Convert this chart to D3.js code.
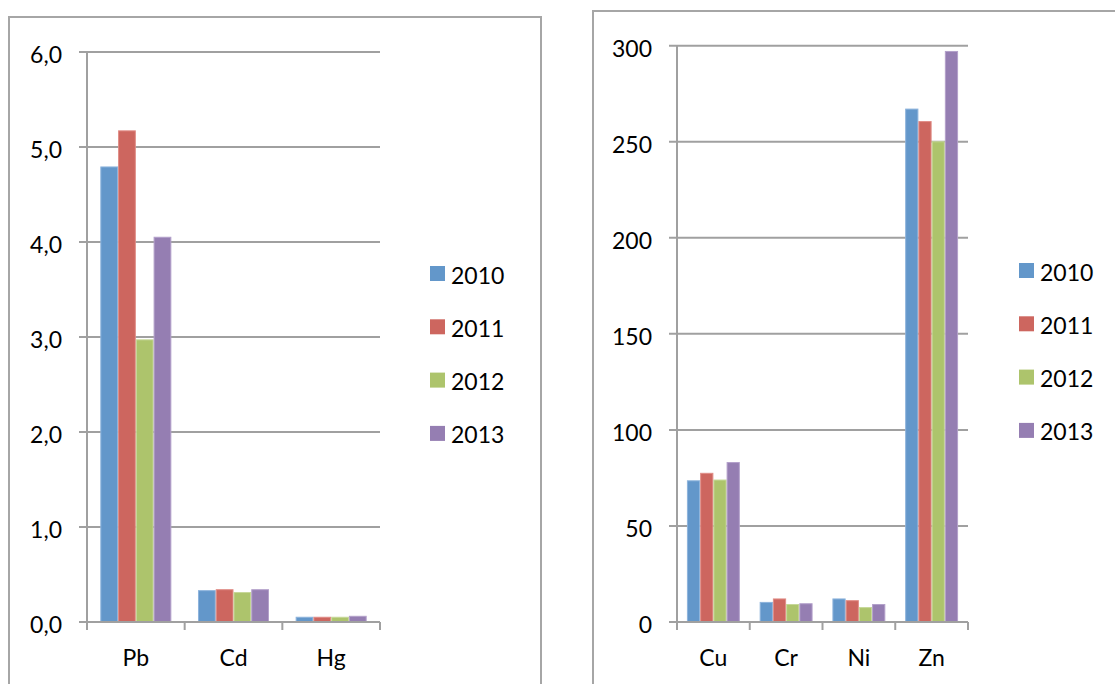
<!DOCTYPE html>
<html>
<head>
<meta charset="utf-8">
<script src="https://cdn.jsdelivr.net/npm/d3@7"></script>
<style>
  html, body { margin: 0; padding: 0; background: #fff; }
  svg { display: block; }
  text { font-family: Lato, "Open Sans", sans-serif; fill: #000; }
</style>
</head>
<body>
<svg id="chart" width="1115" height="684"></svg>
<script>
// Years shown in both legends, with their bar colours
const years = ["2010", "2011", "2012", "2013"];
const yearColors = ["#6397CA", "#CD665F", "#ADC46C", "#957EB2"];
const yearEdges = ["#8DB3DC", "#E08C86", "#C6D898", "#B3A0CA"];

// Left panel: Pb, Cd, Hg
const leftCategories = ["Pb", "Cd", "Hg"];
const left2010 = [4.79, 0.33, 0.05];
const left2011 = [5.17, 0.34, 0.05];
const left2012 = [2.97, 0.31, 0.05];
const left2013 = [4.05, 0.34, 0.06];
const leftTicks = [0, 1, 2, 3, 4, 5, 6];

// Right panel: Cu, Cr, Ni, Zn
const rightCategories = ["Cu", "Cr", "Ni", "Zn"];
const right2010 = [73.5, 10.2, 12.0, 267];
const right2011 = [77.4, 12.0, 11.1, 260.5];
const right2012 = [73.9, 9.1, 7.5, 250];
const right2013 = [83.0, 9.5, 9.1, 297];
const rightTicks = [0, 50, 100, 150, 200, 250, 300];

const commaLocale = d3.formatLocale({ decimal: ",", thousands: ".", grouping: [3], currency: ["", ""] });

const svg = d3.select("#chart");
svg.append("rect").attr("width", 1115).attr("height", 684).attr("fill", "#fff");

function drawPanel(opt) {
  const g = svg.append("g");

  // panel frame (runs off the bottom / right edge)
  g.append("rect")
    .attr("x", opt.frame[0]).attr("y", opt.frame[1])
    .attr("width", opt.frame[2]).attr("height", opt.frame[3])
    .attr("fill", "none").attr("stroke", "#a6a6a6").attr("stroke-width", 2);

  const x0 = d3.scaleBand().domain(opt.categories)
    .range([opt.left, opt.right]).paddingInner(0).paddingOuter(0);
  const x1 = d3.scaleBand().domain(years)
    .range([0, x0.bandwidth()]).paddingInner(0).paddingOuter(0.75);
  const y = d3.scaleLinear().domain([0, opt.max]).range([opt.bottom, opt.top]);

  const gridColor = "#a0a0a0";

  // horizontal gridlines with the short outside tick
  g.append("g").selectAll("line").data(opt.ticks).join("line")
    .attr("x1", opt.left - 8).attr("x2", opt.right)
    .attr("y1", d => y(d)).attr("y2", d => y(d))
    .attr("stroke", gridColor).attr("stroke-width", 2);

  // value axis line
  g.append("line")
    .attr("x1", opt.left).attr("x2", opt.left)
    .attr("y1", opt.top).attr("y2", opt.bottom + 8)
    .attr("stroke", gridColor).attr("stroke-width", 2);

  // category boundary ticks
  const bounds = opt.categories.map(c => x0(c)).concat([opt.right]);
  g.append("g").selectAll("line").data(bounds.slice(1)).join("line")
    .attr("x1", d => d).attr("x2", d => d)
    .attr("y1", opt.bottom).attr("y2", opt.bottom + 8)
    .attr("stroke", gridColor).attr("stroke-width", 2);

  // tick labels
  g.append("g").selectAll("text").data(opt.ticks).join("text")
    .attr("x", opt.labelRight).attr("y", d => y(d) + 11)
    .attr("text-anchor", "end").attr("font-size", 23)
    .text(d => opt.format(d));

  // bars
  const series = opt.values;
  years.forEach((yr, i) => {
    g.append("g").selectAll("rect").data(series[i]).join("rect")
      .attr("x", (d, j) => x0(opt.categories[j]) + x1(yr) + 0.5)
      .attr("y", d => y(d))
      .attr("width", x1.bandwidth() - 1)
      .attr("height", d => opt.bottom - y(d))
      .attr("fill", yearColors[i])
      .attr("stroke", yearEdges[i]).attr("stroke-width", 1);
  });

  // x-axis line on top of the bars' bottoms
  g.append("line")
    .attr("x1", opt.left - 8).attr("x2", opt.right)
    .attr("y1", opt.bottom).attr("y2", opt.bottom)
    .attr("stroke", gridColor).attr("stroke-width", 2);

  // category labels
  g.append("g").selectAll("text").data(opt.categories).join("text")
    .attr("x", d => x0(d) + x0.bandwidth() / 2)
    .attr("y", 666)
    .attr("text-anchor", "middle").attr("font-size", 23)
    .text(d => d);

  // legend
  const lg = g.append("g").selectAll("g").data(years).join("g")
    .attr("transform", (d, i) => `translate(${opt.legend[0]},${opt.legend[1] + i * 53.3})`);
  lg.append("rect").attr("width", 15).attr("height", 15)
    .attr("fill", (d, i) => yearColors[i]);
  lg.append("text").attr("x", 21).attr("y", 17.5)
    .attr("font-size", 23).text(d => d);
}

drawPanel({
  frame: [9, 17, 532, 700],
  categories: leftCategories,
  values: [left2010, left2011, left2012, left2013],
  ticks: leftTicks,
  max: 6,
  left: 87, right: 380, top: 52, bottom: 622,
  labelRight: 62,
  format: commaLocale.format(".1f"),
  legend: [430, 266]
});

drawPanel({
  frame: [593, 11, 560, 700],
  categories: rightCategories,
  values: [right2010, right2011, right2012, right2013],
  ticks: rightTicks,
  max: 300,
  left: 677, right: 968, top: 45.7, bottom: 622,
  labelRight: 652,
  format: d3.format("d"),
  legend: [1019, 263]
});
</script>
</body>
</html>
